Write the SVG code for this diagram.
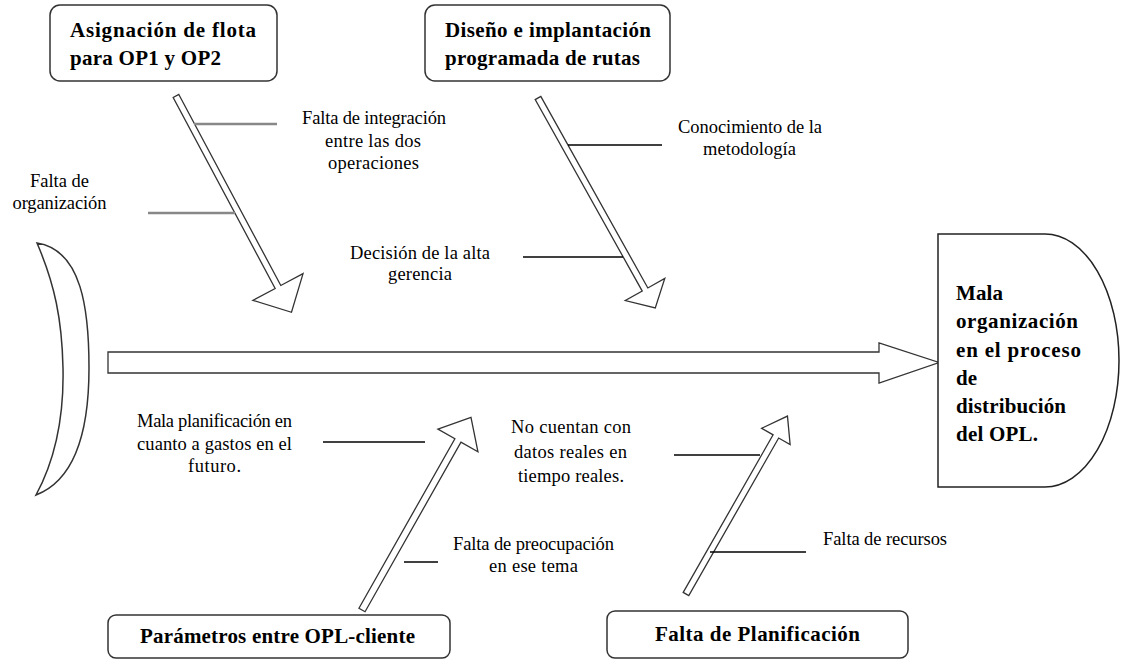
<svg xmlns="http://www.w3.org/2000/svg" width="1121" height="660" viewBox="0 0 1121 660" font-family="Liberation Serif, serif">
<style>
.lbl{font-size:18.5px;fill:#000}
.bold{font-size:21px;font-weight:bold;fill:#000}
.box{fill:#fff;stroke:#333;stroke-width:1.5}
.arr{fill:#fff;stroke:#333;stroke-width:1.3;stroke-linejoin:miter}
.br{stroke:#000;stroke-width:1.5;fill:none}
.brg{stroke:#888;stroke-width:2.5;fill:none}
</style>
<rect width="1121" height="660" fill="#fff"/>
<g id="tail">
<path class="box" d="M37,243 C82,250 89,310 89,368 C89,430 75,480 36,495 C55,460 64,415 63,368 C62,320 55,285 37,243 Z"/>
</g>
<g id="connectors">
<path class="arr" d="M108,352 H879 V343 L939,362.5 L879,383 V373 H108 Z"/>
<path class="arr" transform="translate(176,96) rotate(61.9)" d="M0,-3.2 H216.5 V-28.4 L245.2,0 L216.5,28.4 V3.2 H0 Z"/>
<path class="arr" transform="translate(538,98) rotate(60.8)" d="M0,-3.2 H219.4 V-22.6 L240.4,0 L219.4,22.6 V3.2 H0 Z"/>
<path class="arr" transform="translate(362,610) rotate(-60.5)" d="M0,-3.5 H194.8 V-23 L221.3,0 L194.8,23 V3.5 H0 Z"/>
<path class="arr" transform="translate(686,594) rotate(-60.3)" d="M0,-3.2 H181.4 V-16.4 L204.8,0 L181.4,16.4 V3.2 H0 Z"/>
<line class="brg" x1="194" y1="124" x2="277" y2="124"/>
<line class="brg" x1="148" y1="213" x2="235" y2="213"/>
<line class="br" x1="568" y1="145" x2="662" y2="145"/>
<line class="br" x1="523" y1="257" x2="623" y2="257"/>
<line class="br" x1="323" y1="442" x2="425" y2="442"/>
<line class="br" x1="404" y1="562" x2="438" y2="562"/>
<line class="br" x1="674" y1="455" x2="760" y2="455"/>
<line class="br" x1="710" y1="552" x2="806" y2="552"/>
</g>
<g id="box-asignacion">
<rect class="box" x="50" y="5" width="227" height="76" rx="10"/>
<text class="bold" x="70" y="37" textLength="186">Asignación de flota</text>
<text class="bold" x="70" y="65" textLength="151">para OP1 y OP2</text>
</g>
<g id="box-diseno">
<rect class="box" x="425" y="5" width="245" height="76" rx="10"/>
<text class="bold" x="445" y="37" textLength="206">Diseño e implantación</text>
<text class="bold" x="445" y="65" textLength="195">programada de rutas</text>
</g>
<g id="box-parametros">
<rect class="box" x="108" y="615" width="342" height="43" rx="8"/>
<text class="bold" x="140" y="643" textLength="275">Parámetros entre OPL-cliente</text>
</g>
<g id="box-planificacion">
<rect class="box" x="607" y="611" width="301" height="47" rx="8"/>
<text class="bold" x="655" y="641" textLength="205">Falta de Planificación</text>
</g>
<g id="head">
<path class="box" d="M938,234 H1045 A74,126.5 0 0 1 1045,487 H938 Z" style="stroke:#222"/>
<text class="bold" x="956" y="300" textLength="47">Mala</text>
<text class="bold" x="956" y="328" textLength="122">organización</text>
<text class="bold" x="956" y="357" textLength="125">en el proceso</text>
<text class="bold" x="956" y="385">de</text>
<text class="bold" x="956" y="413" textLength="110">distribución</text>
<text class="bold" x="956" y="441" textLength="82">del OPL.</text>
</g>
<g id="labels">
<text class="lbl" x="302" y="124" textLength="144">Falta de integración</text>
<text class="lbl" x="325" y="147" textLength="96">entre las dos</text>
<text class="lbl" x="328" y="169" textLength="91">operaciones</text>
<text class="lbl" x="30" y="187" textLength="59">Falta de</text>
<text class="lbl" x="12.5" y="209" textLength="94">organización</text>
<text class="lbl" x="350" y="259" textLength="140">Decisión de la alta</text>
<text class="lbl" x="388" y="280" textLength="64">gerencia</text>
<text class="lbl" x="678" y="133" textLength="144">Conocimiento de la</text>
<text class="lbl" x="703" y="155" textLength="93">metodología</text>
<text class="lbl" x="137" y="427" textLength="155">Mala planificación en</text>
<text class="lbl" x="137" y="450" textLength="155">cuanto a gastos en el</text>
<text class="lbl" x="188" y="472" textLength="53">futuro.</text>
<text class="lbl" x="511" y="433" textLength="120">No cuentan con</text>
<text class="lbl" x="514" y="458" textLength="113">datos reales en</text>
<text class="lbl" x="518" y="482" textLength="106">tiempo reales.</text>
<text class="lbl" x="453" y="550" textLength="161">Falta de preocupación</text>
<text class="lbl" x="489" y="572" textLength="89">en ese tema</text>
<text class="lbl" x="823" y="545" textLength="124">Falta de recursos</text>
</g>
</svg>
